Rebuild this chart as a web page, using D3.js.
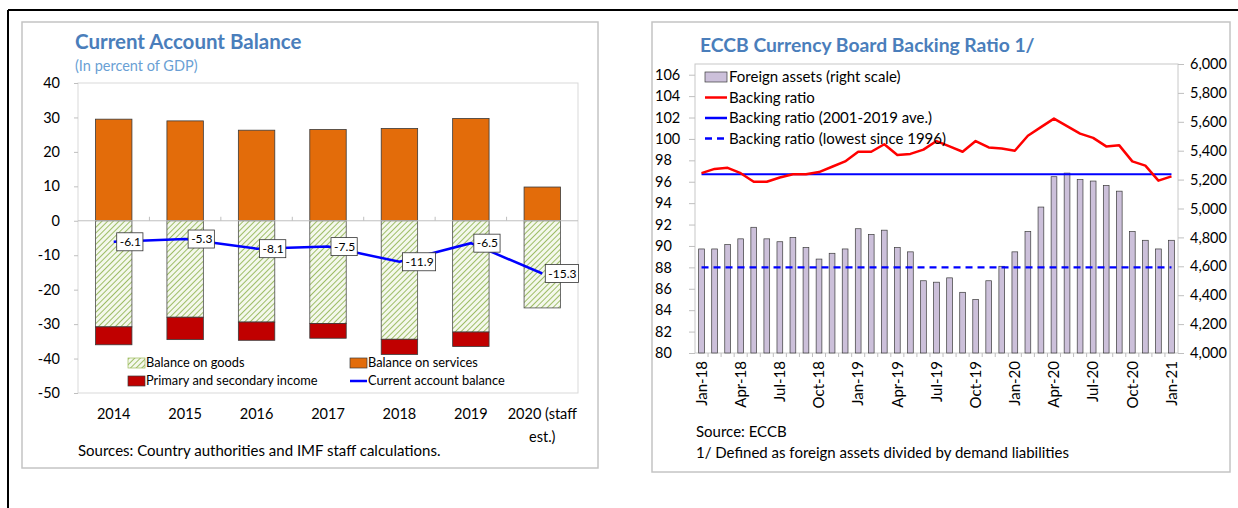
<!DOCTYPE html>
<html><head><meta charset="utf-8">
<script src="https://cdn.jsdelivr.net/npm/d3@7"></script>
<style>
body{margin:0;background:#fff;}
svg{display:block;font-family:Lato,"Noto Sans",sans-serif;}
</style>
</head><body>
<svg id="c" width="1238" height="508"></svg>
<script>
// ---------- Left chart data ----------
const years = ["2014","2015","2016","2017","2018","2019","2020 (staff est.)"];
const yearLabelLines = [["2014"],["2015"],["2016"],["2017"],["2018"],["2019"],["2020 (staff","est.)"]];
const goods    = [-30.8,-28.0,-29.4,-29.8,-34.4,-32.3,-25.3];
const services = [29.5,29.0,26.3,26.5,26.8,29.7,9.8];
const income   = [-5.2,-6.5,-5.3,-4.3,-4.4,-4.2,0];
const caBalance= [-6.1,-5.3,-8.1,-7.5,-11.9,-6.5,-15.3];
const leftTicks = [40,30,20,10,0,-10,-20,-30,-40,-50];

// ---------- Right chart data ----------
const months = ["Jan-18","Feb-18","Mar-18","Apr-18","May-18","Jun-18","Jul-18","Aug-18","Sep-18","Oct-18","Nov-18","Dec-18",
  "Jan-19","Feb-19","Mar-19","Apr-19","May-19","Jun-19","Jul-19","Aug-19","Sep-19","Oct-19","Nov-19","Dec-19",
  "Jan-20","Feb-20","Mar-20","Apr-20","May-20","Jun-20","Jul-20","Aug-20","Sep-20","Oct-20","Nov-20","Dec-20","Jan-21"];
const monthTickLabels = ["Jan-18","Apr-18","Jul-18","Oct-18","Jan-19","Apr-19","Jul-19","Oct-19","Jan-20","Apr-20","Jul-20","Oct-20","Jan-21"];
const foreignAssets = [4720,4720,4750,4790,4870,4790,4770,4800,4730,4650,4690,4720,
  4860,4820,4850,4730,4700,4500,4490,4520,4420,4370,4500,4600,
  4700,4840,5010,5220,5245,5200,5190,5160,5120,4840,4780,4720,4780];
const backingRatio = [96.8,97.2,97.3,96.8,96.0,96.0,96.4,96.7,96.7,96.9,97.4,97.9,
  98.8,98.8,99.5,98.5,98.6,99.0,99.8,99.3,98.8,99.8,99.2,99.1,
  98.9,100.3,101.1,101.9,101.2,100.5,100.1,99.3,99.4,97.9,97.5,96.1,96.5];
const ratioAverage = 96.7;
const ratioLowest = 88.0;
const ratioTicks = [80,82,84,86,88,90,92,94,96,98,100,102,104,106];
const assetTicks = [4000,4200,4400,4600,4800,5000,5200,5400,5600,5800,6000];

const svg = d3.select("#c");
const titleColor = "#4a7ebb";
const hy = s => String(s).replace("\u2212","-");

// overall black frame
svg.append("line").attr("x1",8).attr("x2",1238).attr("y1",10).attr("y2",10).attr("stroke","#000").attr("stroke-width",2);
svg.append("line").attr("x1",8).attr("x2",8).attr("y1",10).attr("y2",508).attr("stroke","#000").attr("stroke-width",2);

// panels
svg.append("rect").attr("x",22).attr("y",22).attr("width",576).attr("height",446).attr("fill","#fff").attr("stroke","#c4c4c4").attr("stroke-width",1.5);
svg.append("rect").attr("x",652).attr("y",22).attr("width",578).attr("height",450).attr("fill","#fff").attr("stroke","#c4c4c4").attr("stroke-width",1.5);

// defs: hatch
const defs = svg.append("defs");
const pat = defs.append("pattern").attr("id","hatch").attr("patternUnits","userSpaceOnUse").attr("width",4).attr("height",4).attr("patternTransform","rotate(45)");
pat.append("rect").attr("width",4).attr("height",4).attr("fill","#f4f8ec");
pat.append("line").attr("x1",0).attr("y1",0).attr("x2",0).attr("y2",4).attr("stroke","#8fb34f").attr("stroke-width",1.7);

// ================= LEFT CHART =================
{
  const g = svg.append("g");
  g.append("text").attr("x",75).attr("y",49).attr("fill",titleColor).attr("font-weight","bold").attr("font-size",20.5).text("Current Account Balance");
  g.append("text").attr("x",75).attr("y",71).attr("fill","#6a9fd4").attr("font-size",14.5).text("(In percent of GDP)");

  const x = d3.scaleBand().domain(years).range([78,578]).paddingInner(0.49).paddingOuter(0.245);
  const y = d3.scaleLinear().domain([-50,40]).range([393,83]);

  g.append("rect").attr("x",78).attr("y",83).attr("width",500).attr("height",310).attr("fill","none").attr("stroke","#d9d9d9");

  // y axis
  const ya = g.append("g").attr("transform","translate(78,0)").call(d3.axisLeft(y).tickValues(leftTicks).tickSize(4).tickPadding(14).tickFormat(d=>String(d)));
  ya.select(".domain").remove();
  ya.selectAll("line").attr("stroke","#bfbfbf");
  ya.selectAll("text").attr("font-size",14.5).attr("fill","#000").attr("font-family","Lato,'Noto Sans',sans-serif");

  // bars
  const bw = x.bandwidth();
  g.selectAll(".svc").data(years).join("rect").attr("x",d=>x(d)).attr("width",bw)
    .attr("y",(d,i)=>y(services[i])).attr("height",(d,i)=>y(0)-y(services[i]))
    .attr("fill","#e36c0a").attr("stroke","#3a3a3a").attr("stroke-width",0.8);
  g.selectAll(".gds").data(years).join("rect").attr("x",d=>x(d)).attr("width",bw)
    .attr("y",y(0)).attr("height",(d,i)=>y(goods[i])-y(0))
    .attr("fill","url(#hatch)").attr("stroke","#4d4d4d").attr("stroke-width",0.8);
  g.selectAll(".inc").data(years).join("rect").attr("x",d=>x(d)).attr("width",bw)
    .attr("y",(d,i)=>y(goods[i])).attr("height",(d,i)=>y(goods[i]+income[i])-y(goods[i]))
    .attr("fill","#c00000").attr("stroke","#3a3a3a").attr("stroke-width",0.8);

  // zero axis
  g.append("line").attr("x1",78).attr("x2",578).attr("y1",y(0)).attr("y2",y(0)).attr("stroke","#bfbfbf");
  years.slice(1).forEach(d=>{
    const xx = x(d) - x.step()*x.paddingInner()/2;
    g.append("line").attr("x1",xx).attr("x2",xx).attr("y1",y(0)).attr("y2",y(0)-4).attr("stroke","#bfbfbf");
  });

  // CA line
  const line = d3.line().x((d,i)=>x(years[i])+bw/2).y(d=>y(d));
  g.append("path").datum(caBalance).attr("d",line).attr("fill","none").attr("stroke","#0000ff").attr("stroke-width",2.5);

  // labels
  caBalance.forEach((v,i)=>{
    const px = x(years[i])+bw/2 + 3, py = y(v);
    const t = g.append("text").attr("x",px+3).attr("y",py).attr("dy","0.35em").attr("font-size",12).text(hy(d3.format(".1f")(v)));
    const w = t.node().getComputedTextLength();
    g.insert("rect", () => t.node()).attr("x",px).attr("y",py-9).attr("width",w+5).attr("height",18).attr("fill","#fff").attr("stroke","#333").attr("stroke-width",0.8);
  });

  // x labels
  years.forEach((d,i)=>{
    yearLabelLines[i].forEach((ln,k)=>{
      g.append("text").attr("x",x(d)+bw/2).attr("y",419+k*23).attr("text-anchor","middle").attr("font-size",14.5).text(ln);
    });
  });

  // legend
  const leg = [
    {label:"Balance on goods", type:"hatch", x:128, y:363},
    {label:"Balance on services", type:"svc", x:350, y:363},
    {label:"Primary and secondary income", type:"inc", x:128, y:381},
    {label:"Current account balance", type:"line", x:350, y:381}
  ];
  leg.forEach(l=>{
    if(l.type==="line"){
      g.append("line").attr("x1",l.x).attr("x2",l.x+17).attr("y1",l.y).attr("y2",l.y).attr("stroke","#0000ff").attr("stroke-width",2.5);
    } else {
      g.append("rect").attr("x",l.x).attr("y",l.y-5).attr("width",17).attr("height",10)
        .attr("fill", l.type==="hatch"?"url(#hatch)":(l.type==="svc"?"#e36c0a":"#c00000"))
        .attr("stroke", l.type==="hatch"?"#9bbb59":"#3a3a3a").attr("stroke-width",0.7);
    }
    g.append("text").attr("x",l.x+18).attr("y",l.y).attr("dy","0.35em").attr("font-size",12.8).text(l.label);
  });

  g.append("text").attr("x",78).attr("y",456).attr("font-size",15).text("Sources: Country authorities and IMF staff calculations.");
}

// ================= RIGHT CHART =================
{
  const g = svg.append("g");
  g.append("text").attr("x",700).attr("y",52).attr("fill",titleColor).attr("font-weight","bold").attr("font-size",19.3).text("ECCB Currency Board Backing Ratio 1/");

  const x = d3.scaleBand().domain(months).range([695,1178]).paddingInner(0.56).paddingOuter(0.28);
  const yL = d3.scaleLinear().domain([80,107]).range([353,64]);
  const yR = d3.scaleLinear().domain([4000,6000]).range([353,64]);
  const bw = x.bandwidth();
  const cx = m => x(m)+bw/2;

  g.append("rect").attr("x",695).attr("y",64).attr("width",483).attr("height",289).attr("fill","none").attr("stroke","#c8c8c8");

  const al = g.append("g").attr("transform","translate(695,0)").call(d3.axisLeft(yL).tickValues(ratioTicks).tickSize(6).tickPadding(16));
  al.select(".domain").remove();
  al.selectAll("line").attr("stroke","#bfbfbf");
  al.selectAll("text").attr("font-size",14.5).attr("fill","#000").attr("text-anchor","start").attr("x",-40).attr("font-family","Lato,'Noto Sans',sans-serif");

  const ar = g.append("g").attr("transform","translate(1178,0)").call(d3.axisRight(yR).tickValues(assetTicks).tickSize(6).tickPadding(6).tickFormat(d3.format(",")));
  ar.select(".domain").remove();
  ar.selectAll("line").attr("stroke","#bfbfbf");
  ar.selectAll("text").attr("font-size",14.5).attr("fill","#000").attr("font-family","Lato,'Noto Sans',sans-serif");

  // bars
  g.selectAll(".fa").data(months).join("rect").attr("x",d=>x(d)).attr("width",bw)
    .attr("y",(d,i)=>yR(foreignAssets[i])).attr("height",(d,i)=>yR(4000)-yR(foreignAssets[i]))
    .attr("fill","#ccc0da").attr("stroke","#3a3a3a").attr("stroke-width",0.7);

  // bottom axis ticks
  const step = x.step();
  months.forEach((m,i)=>{
    const xx = 695 + i*step;
    if(i>0) g.append("line").attr("x1",xx).attr("x2",xx).attr("y1",353).attr("y2",357).attr("stroke","#bfbfbf");
  });

  // reference lines
  g.append("line").attr("x1",cx(months[0])).attr("x2",cx(months[months.length-1])).attr("y1",yL(ratioAverage)).attr("y2",yL(ratioAverage)).attr("stroke","#0000ff").attr("stroke-width",2.2);
  g.append("line").attr("x1",cx(months[0])).attr("x2",cx(months[months.length-1])).attr("y1",yL(ratioLowest)).attr("y2",yL(ratioLowest)).attr("stroke","#0000ff").attr("stroke-width",2.2).attr("stroke-dasharray","7,5");

  // ratio line
  g.append("path").datum(backingRatio).attr("d",d3.line().x((d,i)=>cx(months[i])).y(d=>yL(d)))
    .attr("fill","none").attr("stroke","#ff0000").attr("stroke-width",2.5).attr("stroke-linejoin","round");

  // x labels
  monthTickLabels.forEach(m=>{
    g.append("text").attr("transform",`translate(${cx(m)},361) rotate(-90)`).attr("text-anchor","end").attr("dy","0.35em").attr("font-size",15).text(m);
  });

  // legend
  const lg = [
    {label:"Foreign assets (right scale)", type:"bar"},
    {label:"Backing ratio", type:"red"},
    {label:"Backing ratio (2001-2019 ave.)", type:"blue"},
    {label:"Backing ratio (lowest since 1996)", type:"dash"}
  ];
  lg.forEach((l,i)=>{
    const yy = 77 + i*20.5;
    if(l.type==="bar"){
      g.append("rect").attr("x",705).attr("y",yy-5).attr("width",22).attr("height",10).attr("fill","#ccc0da").attr("stroke","#3a3a3a").attr("stroke-width",0.7);
    } else {
      g.append("line").attr("x1",705).attr("x2",727).attr("y1",yy).attr("y2",yy)
        .attr("stroke", l.type==="red"?"#ff0000":"#0000ff").attr("stroke-width",2.5)
        .attr("stroke-dasharray", l.type==="dash"?"7,5":null);
    }
    g.append("text").attr("x",729).attr("y",yy).attr("dy","0.35em").attr("font-size",15).text(l.label);
  });

  g.append("text").attr("x",696).attr("y",437).attr("font-size",15).text("Source: ECCB");
  g.append("text").attr("x",696).attr("y",458).attr("font-size",15).text("1/ Defined as foreign assets divided by demand liabilities");
}
</script>
</body></html>
